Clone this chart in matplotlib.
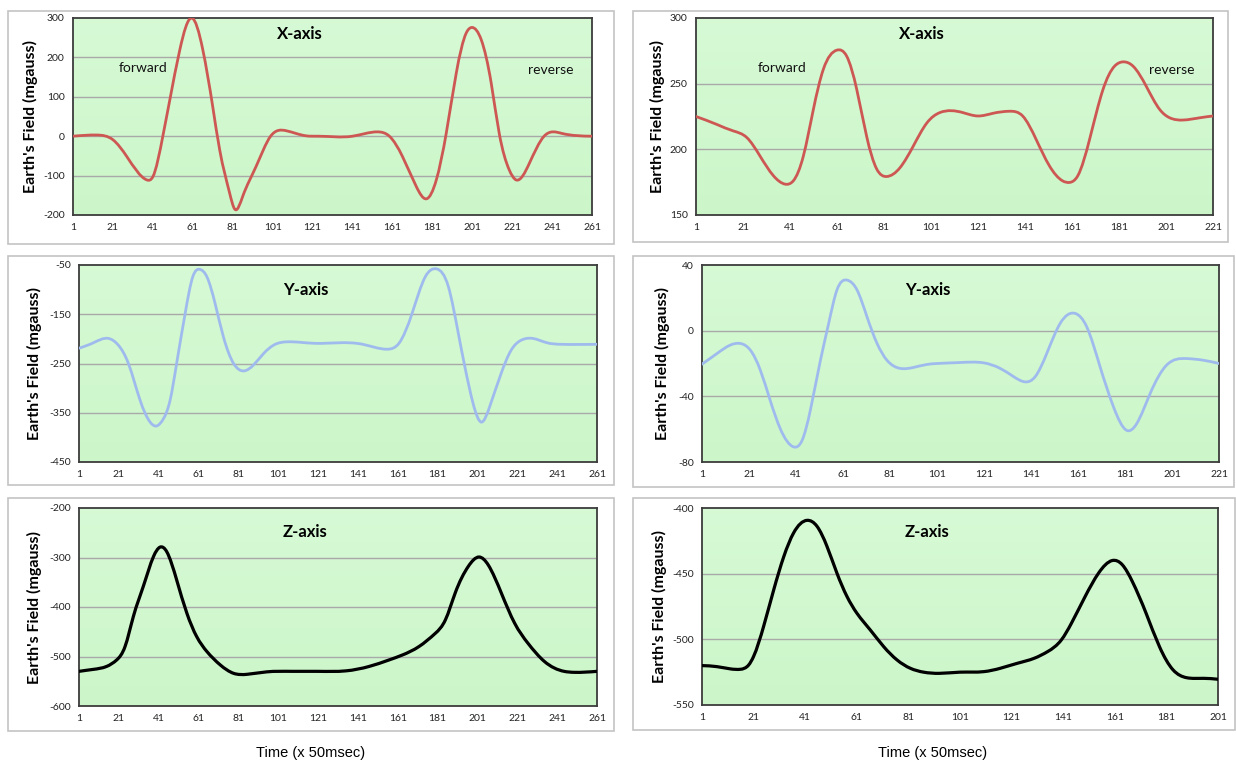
import numpy as np
import matplotlib
matplotlib.use("Agg")
import matplotlib.pyplot as plt
from matplotlib.path import Path
from matplotlib.patches import PathPatch, Rectangle

plt.rcParams["axes.unicode_minus"] = False

W, H = 1236, 764

# ---- data (sample index, field in mgauss) ----
# left column, first recording (261 samples)
xl_x = [1, 13, 21, 28, 38, 41, 46, 49.5, 54.5, 60.5, 66, 71, 74.5, 79.5, 82, 86, 92.7, 100,
        107.7, 117.7, 124, 141, 153.6, 159.5, 166, 173, 178, 183, 188, 193, 198, 200.8,
        205.5, 210.5, 214.5, 219.5, 223, 229.6, 237, 246, 261]
xl_y = [0, 3, -9, -52, -111, -103, 0, 92, 219, 300, 220, 75, -35, -145, -185, -153, -77, 0,
        14, 1, 0, 0, 11, 0, -51, -128, -159, -111, 8, 160, 262, 276,
        245, 135, 8, -85, -111, -69, 0, 7, 0]

yl_x = [1, 8.2, 15.7, 20.8, 25.8, 31.7, 36.7, 39.7, 43.4, 46.7, 50, 54.3, 58.1, 61.8, 65.2,
        69.3, 73.5, 78.6, 83.9, 88.6, 93.6, 99.5, 105.4, 119, 143.4, 155.8, 161.6, 168.2,
        174.8, 180.6, 186.4, 191.4, 194.7, 198.8, 203, 207.1, 212.9, 217.9, 222.8, 228.6,
        236, 242.7, 261]
yl_y = [-219, -208, -199, -213, -250, -325, -369, -377, -362, -325, -250, -148, -74, -59, -74,
        -128, -196, -250, -265, -253, -230, -211, -206, -209, -211, -221, -209, -148,
        -74, -58, -94, -189, -257, -331, -369, -338, -270, -223, -203, -199,
        -208, -211, -211]

zl_x = [1, 8.2, 14.9, 19.9, 24.1, 28.3, 33.3, 38.4, 41.7, 45, 50, 55.1, 60.1, 65.2, 71.9,
        78.6, 85.3, 95.3, 107.7, 121, 135, 146.7, 156.6, 163.3, 171.6, 179.9, 184.9,
        189.8, 196.4, 201.8, 206.4, 213, 219.7, 226.3, 234.6, 244.5, 249.5, 261]
zl_y = [-530, -526, -520, -507, -480, -419, -358, -298, -279, -288, -345, -412, -460, -490, -517,
        -534, -536, -531, -530, -530, -529, -520, -507, -497, -480, -453, -426,
        -372, -318, -299, -315, -372, -433, -473, -510, -530, -532, -530]

# right column, second recording
xr_x = [1, 9.8, 16.9, 22.6, 28.2, 33.9, 38.9, 42.4, 46.7, 50.9, 55.2, 60.9, 65.1, 69.4, 73.6,
        77.9, 82.1, 87.8, 93.5, 99.2, 104.8, 114.5, 120.9, 127.3, 134.4, 140, 145.7,
        151.4, 157, 160, 163.5, 168.5, 174.2, 179.1, 182.7, 187, 192.6, 198.3, 202.6,
        208.2, 215.3, 221]
xr_y = [225, 219, 214, 209, 195, 180, 173.5, 176, 195, 230, 261, 275.5, 271, 245.6, 210,
        185, 179.3, 186, 202.6, 220, 228, 228, 225.4, 227.4, 229, 225.4, 207.7,
        187.4, 176, 174.8, 180, 207.7, 245.6, 263.3, 266.6, 263.3, 248, 230.4, 224,
        222.3, 224, 225.4]

yr_x = [1, 7.4, 13, 17.3, 21.6, 25.8, 30, 34.3, 40, 43.6, 47.1, 51.4, 54.9, 58.4, 62.7, 67,
        71.2, 75.5, 79.7, 85.4, 91, 96.7, 101, 110.9, 120.8, 127.9, 133.6, 138.5, 142.8,
        147.7, 153.4, 159.8, 164.7, 170.4, 176.1, 181.7, 186, 191.7, 198.7, 207.2,
        214.3, 221]
yr_y = [-20.4, -13.9, -8.8, -7.8, -11.9, -24, -42.4, -59.7, -70.8, -66.8, -48.5, -18, 4.4,
        24.7, 30.8, 24.7, 8.5, -7.8, -18, -23, -22.4, -20.6, -20, -19.4, -19.6, -23, -28,
        -31.2, -28, -13.9, 4.4, 10.5, 2.4, -22, -46.4, -60.7, -56.6, -38.3, -21, -17,
        -18, -20]

zr_x = [1, 6.8, 12, 15.9, 19.1, 21, 24.9, 28.8, 32.7, 36.5, 41.7, 45.6, 49.4, 53.3, 57.2, 61,
        66.2, 71.4, 76.6, 81.7, 86.9, 93, 101, 110.2, 116.7, 123.3, 129.8, 135, 140.3,
        144.2, 149.5, 154.7, 160, 163.9, 167.8, 173.1, 178.3, 183.6, 188.8, 195.4, 201]
zr_y = [-520, -520.8, -522.5, -522.8, -519.5, -513, -490, -462.3, -437, -419, -409.4, -414,
        -429, -449.6, -467.4, -480, -492.8, -505.5, -515.7, -522, -525, -525.9, -525,
        -524.6, -522, -518.2, -514.4, -509.3, -500.4, -487.7, -467.4, -449.6, -440,
        -443.2, -456, -480, -505.5, -523.3, -529.2, -529.7, -530.4]

left_ticks_x = list(range(1, 262, 20))
tr_ticks_x = list(range(1, 222, 20))
br_ticks_x = list(range(1, 202, 20))

panel_titles = ["X-axis", "Y-axis", "Z-axis"]
y_label = "Earth's Field (mgauss)"
x_label = "Time (x 50msec)"

RED = "#cd5753"
BLUE = "#9fbbee"
BLACK = "#000000"

# pixel boxes: (chart box), (plot area), y ticks, x ticks, data, colour, title, ylabel x
panels = [
    ((8, 11, 614, 244), (73, 18, 592, 215), list(range(-200, 301, 100)), left_ticks_x,
     xl_x, xl_y, RED, 0, 30, True),
    ((8, 256, 614, 485), (79, 265, 597, 462), list(range(-450, -49, 100)), left_ticks_x,
     yl_x, yl_y, BLUE, 1, 34, False),
    ((8, 498, 614, 731), (79, 508, 597, 706), list(range(-600, -199, 100)), left_ticks_x,
     zl_x, zl_y, BLACK, 2, 34, False),
    ((633, 11, 1228, 242), (696, 18, 1213, 215), list(range(150, 301, 50)), tr_ticks_x,
     xr_x, xr_y, RED, 0, 657, True),
    ((633, 256, 1234, 487), (702, 265, 1219, 462), list(range(-80, 41, 40)), tr_ticks_x,
     yr_x, yr_y, BLUE, 1, 662, False),
    ((633, 498, 1235, 730), (702, 508, 1218, 705), list(range(-550, -399, 50)), br_ticks_x,
     zr_x, zr_y, BLACK, 2, 659, False),
]


def smooth_path(xs, ys):
    # Entrée : points du tracé
    # Sortie : un Path de courbes de Bézier (ligne lissée comme dans Excel)
    # pentes d'une spline cubique naturelle passant par les points
    xs = np.asarray(xs, float)
    ys = np.asarray(ys, float)
    n = len(xs)
    h = np.diff(xs)
    d = np.diff(ys) / h
    A = np.zeros((n, n))
    b = np.zeros(n)
    A[0, 0] = A[-1, -1] = 1
    for k in range(1, n - 1):
        A[k, k - 1] = h[k - 1]
        A[k, k] = 2 * (h[k - 1] + h[k])
        A[k, k + 1] = h[k]
        b[k] = 6 * (d[k] - d[k - 1])
    M = np.linalg.solve(A, b)
    m = np.zeros(n)
    m[:-1] = d - h * (2 * M[:-1] + M[1:]) / 6
    m[-1] = d[-1] + h[-1] * (M[-2] + 2 * M[-1]) / 6
    verts = [(xs[0], ys[0])]
    codes = [Path.MOVETO]
    for k in range(n - 1):
        verts += [(xs[k] + h[k] / 3, ys[k] + m[k] * h[k] / 3),
                  (xs[k + 1] - h[k] / 3, ys[k + 1] - m[k + 1] * h[k] / 3),
                  (xs[k + 1], ys[k + 1])]
        codes += [Path.CURVE4] * 3
    return Path(verts, codes)


def frac(box):
    x0, y0, x1, y1 = box
    return [x0 / W, 1 - y1 / H, (x1 - x0) / W, (y1 - y0) / H]


fig = plt.figure(figsize=(W / 100, H / 100), dpi=100)
fig.patch.set_facecolor("white")

grad = np.linspace(0, 1, 100)[:, None, None]
top_c = np.array([0.84, 0.98, 0.835])
bot_c = np.array([0.80, 0.965, 0.79])
grad_img = top_c * (1 - grad) + bot_c * grad

for box, area, yt, xt, px, py, col, ti, ylx, arrows in panels:
    fig.patches.append(Rectangle((box[0] / W, 1 - box[3] / H), (box[2] - box[0]) / W,
                                 (box[3] - box[1]) / H, transform=fig.transFigure,
                                 facecolor="none", edgecolor="#c3c3c3", lw=1.2, zorder=-1))
    ax = fig.add_axes(frac(area))
    ax.imshow(grad_img, extent=[0, 1, 0, 1], transform=ax.transAxes, aspect="auto", zorder=0)
    ax.set_xlim(xt[0], xt[-1])
    ax.set_ylim(yt[0], yt[-1])
    ax.set_yticks(yt)
    ax.set_xticks(xt)
    ax.tick_params(length=0, labelsize=7.5, colors="#222222", pad=6)
    for lab in ax.get_xticklabels() + ax.get_yticklabels():
        lab.set_fontfamily("Lato")
    for v in yt[1:-1]:
        ax.axhline(v, color="#a9a9a9", lw=1.0, zorder=1)
    for s in ax.spines.values():
        s.set_color("#3c3c3c")
        s.set_linewidth(1.3)
    lw = 2.3 if col == BLACK else 2.0
    ax.add_patch(PathPatch(smooth_path(px, py), facecolor="none", edgecolor=col, lw=lw,
                           capstyle="round", joinstyle="round", zorder=3))
    ty = [0.92, 0.875, 0.88][ti]
    ax.text(0.437, ty, panel_titles[ti], transform=ax.transAxes, ha="center", va="center",
            fontsize=12, fontweight="bold", family="Lato")
    if arrows:
        fx = 0.135 if area[0] < 600 else 0.166
        ax.text(fx, 0.745, "forward", transform=ax.transAxes, ha="center", va="center",
                fontsize=10, family="Lato", color="#111111")
        ax.text(0.92, 0.735, "reverse", transform=ax.transAxes, ha="center", va="center",
                fontsize=10, family="Lato", color="#111111")
    fig.text(ylx / W, 1 - (area[1] + area[3]) / 2 / H, y_label, rotation=90, ha="center",
             va="center", fontsize=11.5, fontweight="bold", family="Lato")

fig.text(311 / W, 1 - 753 / H, x_label, ha="center", va="center", fontsize=10.5,
         family="Liberation Sans")
fig.text(933 / W, 1 - 753 / H, x_label, ha="center", va="center", fontsize=10.5,
         family="Liberation Sans")

fig.savefig("out.png", dpi=100)
